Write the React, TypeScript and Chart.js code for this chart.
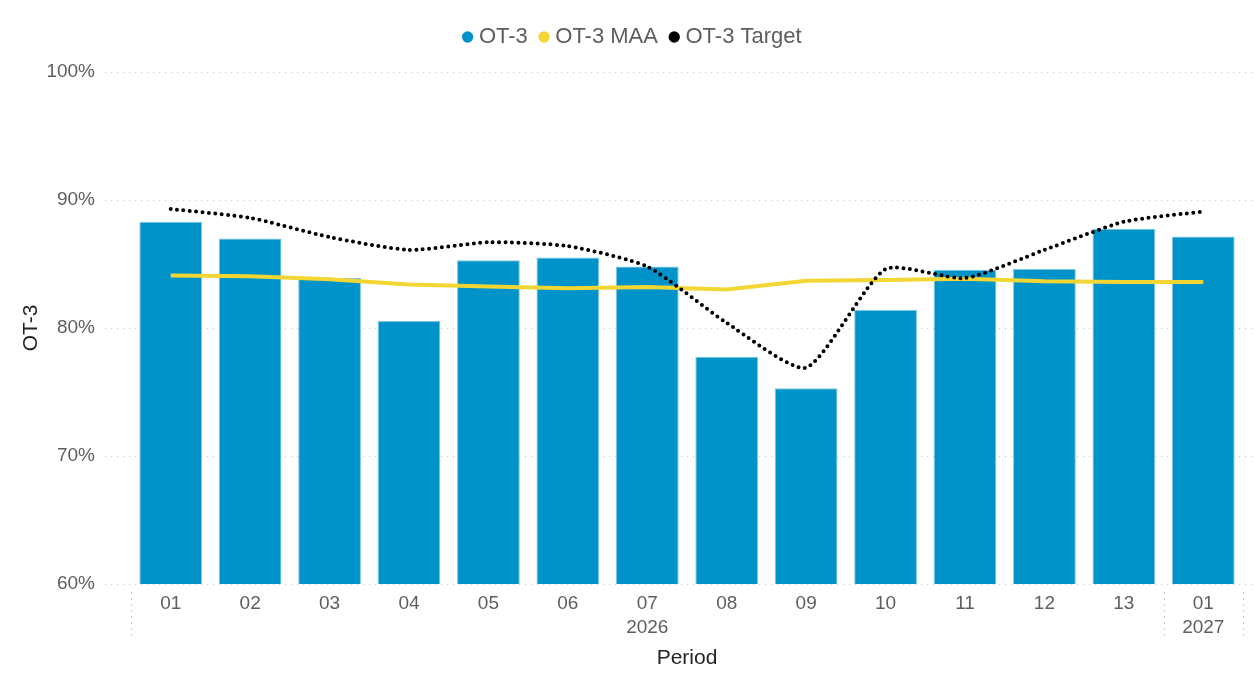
import React, { useEffect, useRef } from "react";
import { Chart, registerables } from "chart.js";

Chart.register(...registerables);

const periods = ["01", "02", "03", "04", "05", "06", "07", "08", "09", "10", "11", "12", "13", "01"];
const years = ["2026", "2027"];
const ot3 = [88.3, 87.0, 83.9, 80.55, 85.3, 85.5, 84.8, 77.75, 75.3, 81.4, 84.55, 84.6, 87.75, 87.15];
const ot3Maa = [84.1, 84.05, 83.8, 83.4, 83.25, 83.1, 83.2, 83.0, 83.7, 83.75, 83.85, 83.65, 83.6, 83.6];
const ot3Target = [89.3, 88.6, 87.1, 86.1, 86.7, 86.4, 84.8, 80.4, 76.9, 84.6, 83.9, 86.1, 88.3, 89.1];
const yTicks = [60, 70, 80, 90, 100];

const FONT = "'Liberation Sans', Arial, sans-serif";
const BAR = "#0093C9";
const YELLOW = "#F2D633";
const GRID = "#C8C8C8";
const TEXT = "#605E5C";

const gridPlugin = {
  id: "customGrid",
  beforeInit(chart: any) {
    const legend = chart.legend;
    if (legend) {
      const origFit = legend.fit;
      legend.fit = function () {
        origFit.call(this);
        this.height += 14;
      };
      const origDraw = legend.draw;
      legend.draw = function () {
        const ctx = this.ctx;
        ctx.save();
        ctx.translate(13, 0);
        origDraw.call(this);
        ctx.restore();
      };
    }
  },
  beforeDatasetsDraw(chart: any) {
    const { ctx, chartArea, scales } = chart;
    const y = scales.y;
    const x = scales.x;
    ctx.save();
    ctx.strokeStyle = GRID;
    ctx.lineWidth = 1;
    ctx.setLineDash([1, 5]);
    yTicks.forEach((v) => {
      const py = Math.round(y.getPixelForValue(v)) + 0.5;
      ctx.beginPath();
      ctx.moveTo(chartArea.left - 26, py);
      ctx.lineTo(chartArea.right + 12, py);
      ctx.stroke();
    });
    const step = x.getPixelForValue(1) - x.getPixelForValue(0);
    const seps = [chartArea.left, x.getPixelForValue(12) + step / 2, chartArea.right];
    ctx.setLineDash([2, 4]);
    seps.forEach((sx) => {
      const px = Math.round(sx) + 0.5;
      ctx.beginPath();
      ctx.moveTo(px, chartArea.bottom + 8);
      ctx.lineTo(px, chartArea.bottom + 55);
      ctx.stroke();
    });
    ctx.restore();
  },
};

export default function App() {
  const ref = useRef<HTMLCanvasElement>(null);
  useEffect(() => {
    if (!ref.current) return;
    const labels = periods.map((p, i) => (i === 6 ? [p, years[0]] : i === 13 ? [p, years[1]] : p));
    const chart = new Chart(ref.current, {
      type: "bar",
      data: {
        labels,
        datasets: [
          {
            type: "bar",
            label: "OT-3",
            data: ot3,
            backgroundColor: BAR,
            borderColor: "#7CC6E6",
            borderWidth: 1,
            categoryPercentage: 1,
            barPercentage: 0.79,
            order: 3,
          } as any,
          {
            type: "line",
            label: "OT-3 MAA",
            data: ot3Maa,
            borderColor: YELLOW,
            backgroundColor: YELLOW,
            borderWidth: 4,
            pointRadius: 0,
            tension: 0,
            order: 2,
          },
          {
            type: "line",
            label: "OT-3 Target",
            data: ot3Target,
            borderColor: "#000000",
            backgroundColor: "#000000",
            borderWidth: 4,
            borderDash: [0, 6.4],
            borderCapStyle: "round",
            pointRadius: 0,
            tension: 0.2,
            order: 1,
          },
        ],
      },
      options: {
        animation: false,
        responsive: true,
        maintainAspectRatio: false,
        layout: { padding: { left: 0, right: 17, top: 10, bottom: 0 } },
        plugins: {
          tooltip: { enabled: false },
          legend: {
            position: "top",
            align: "center",
            labels: {
              usePointStyle: true,
              boxWidth: 0.5,
              boxHeight: 8,
              padding: 16,
              color: TEXT,
              font: { family: FONT, size: 22 },
              generateLabels: (c: any) =>
                c.data.datasets.map((d: any, i: number) => {
                  const col = i === 0 ? BAR : i === 1 ? YELLOW : "#000000";
                  return {
                    text: d.label,
                    fillStyle: col,
                    strokeStyle: col,
                    fontColor: TEXT,
                    lineWidth: 0,
                    pointStyle: "circle",
                    datasetIndex: i,
                    hidden: false,
                  };
                }),
            },
          },
        },
        scales: {
          x: {
            grid: { display: false, drawTicks: false },
            border: { display: false },
            ticks: {
              color: TEXT,
              font: { family: FONT, size: 19, lineHeight: 1.3 },
              padding: 7,
              maxRotation: 0,
              autoSkip: false,
            },
            title: {
              display: true,
              text: "Period",
              color: "#252423",
              font: { family: FONT, size: 21 },
              padding: { top: 0, bottom: 8 },
            },
            afterFit: (s: any) => {
              s.height = 95;
            },
          },
          y: {
            min: 60,
            max: 100,
            grid: { display: false, drawTicks: false },
            border: { display: false },
            afterBuildTicks: (s: any) => {
              s.ticks = yTicks.map((v) => ({ value: v }));
            },
            ticks: {
              color: TEXT,
              font: { family: FONT, size: 19 },
              padding: 36,
              callback: (v: any) => v + "%",
            },
            title: {
              display: true,
              text: "OT-3",
              color: "#252423",
              font: { family: FONT, size: 21 },
              padding: { top: 19, bottom: 0 },
            },
            afterFit: (s: any) => {
              s.width = 131;
            },
          },
        },
      },
      plugins: [gridPlugin],
    });
    return () => chart.destroy();
  }, []);
  return (
    <div style={{ position: "fixed", left: 0, top: 0, width: 1260, height: 679, background: "#fff" }}>
      <canvas ref={ref} />
    </div>
  );
}
